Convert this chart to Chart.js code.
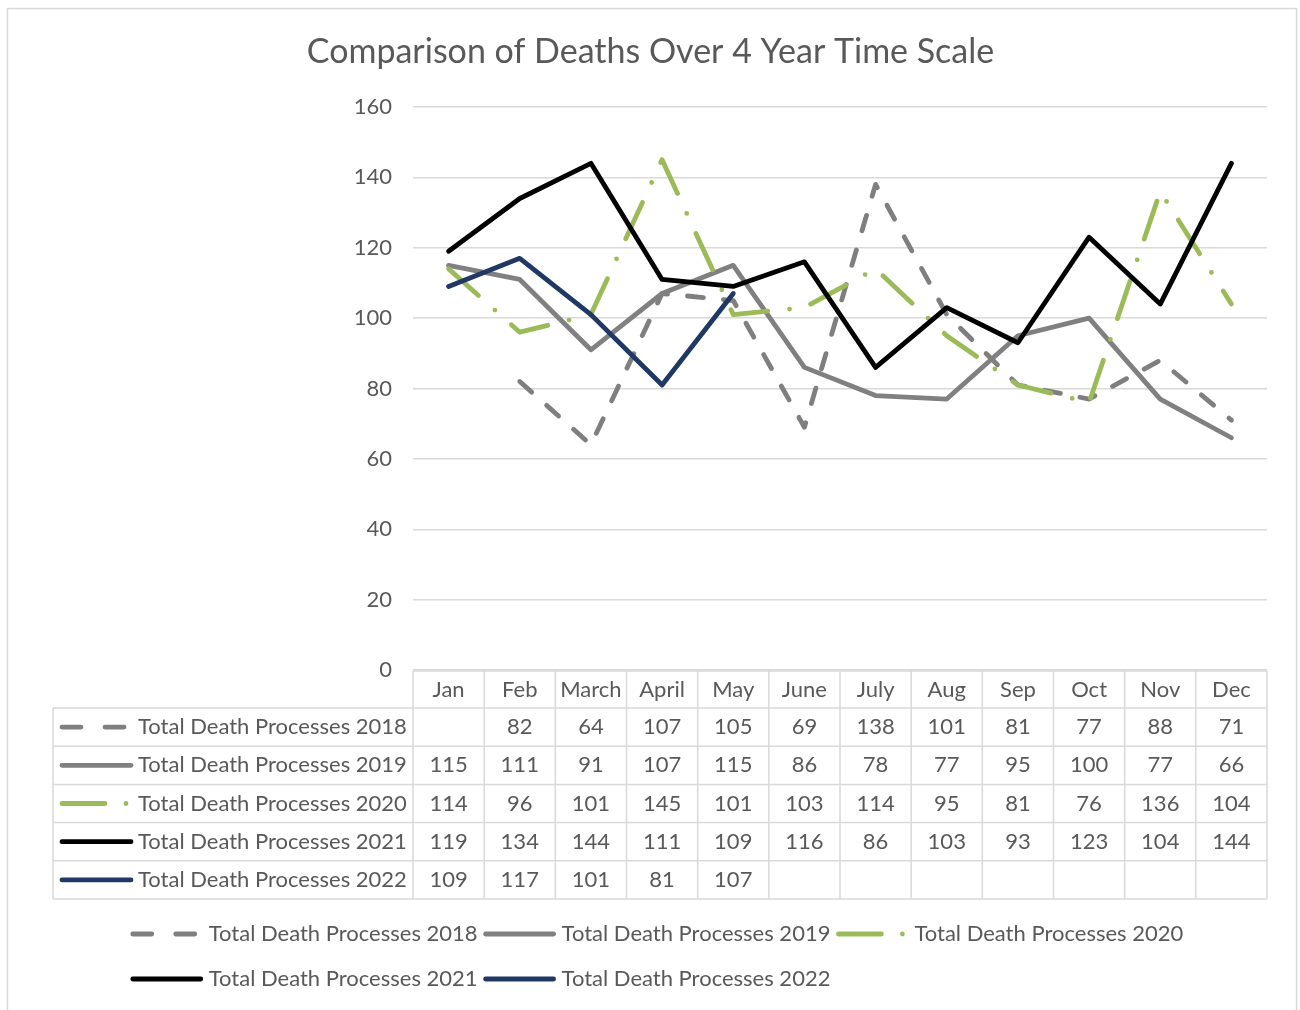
<!DOCTYPE html>
<html>
<head>
<meta charset="utf-8">
<title>Comparison of Deaths Over 4 Year Time Scale</title>
<script src="https://cdn.jsdelivr.net/npm/chart.js@4"></script>
<style>
    body { margin: 0; background: #fff; }
    #wrap { width: 1300px; height: 1010px; position: relative; }
</style>
</head>
<body>
<div id="wrap"><canvas id="deathsChart"></canvas></div>
<script>
// ============================================
// Data
// ============================================
const months = ['Jan', 'Feb', 'March', 'April', 'May', 'June', 'July', 'Aug', 'Sep', 'Oct', 'Nov', 'Dec'];
const seriesLabels = ['Total Death Processes 2018', 'Total Death Processes 2019', 'Total Death Processes 2020', 'Total Death Processes 2021', 'Total Death Processes 2022'];
const deaths2018 = [null, 82, 64, 107, 105, 69, 138, 101, 81, 77, 88, 71];
const deaths2019 = [115, 111, 91, 107, 115, 86, 78, 77, 95, 100, 77, 66];
const deaths2020 = [114, 96, 101, 145, 101, 103, 114, 95, 81, 76, 136, 104];
const deaths2021 = [119, 134, 144, 111, 109, 116, 86, 103, 93, 123, 104, 144];
const deaths2022 = [109, 117, 101, 81, 107, null, null, null, null, null, null, null];
const yTicks = [0, 20, 40, 60, 80, 100, 120, 140, 160];

const FONT = 'Lato, "Open Sans", sans-serif';
const TEXT = '#595959';
const RULE = '#d9d9d9';
const LABEL_SIZE = 22;

const styles = [
    { color: '#7f7f7f', dash: [16, 20], sampleDash: [19, 24] },
    { color: '#808080', dash: [], sampleDash: [] },
    { color: '#9bbb59', dash: [40, 22, 0, 22], sampleDash: [43, 21, 0, 40] },
    { color: '#000000', dash: [], sampleDash: [] },
    { color: '#203864', dash: [], sampleDash: [] }
];

const allSeries = [deaths2018, deaths2019, deaths2020, deaths2021, deaths2022];

const datasets = allSeries.map((values, i) => ({
    label: seriesLabels[i],
    data: values,
    borderColor: styles[i].color,
    backgroundColor: styles[i].color,
    borderWidth: 4.8,
    borderDash: styles[i].dash,
    borderCapStyle: 'round',
    borderJoinStyle: 'round',
    pointRadius: 0,
    pointHoverRadius: 0,
    tension: 0,
    fill: false,
    order: allSeries.length - i
}));

// line sample used in the data table and legend
function drawSample(ctx, i, x0, x1, y) {
    ctx.save();
    ctx.strokeStyle = styles[i].color;
    ctx.lineWidth = 4.8;
    ctx.lineCap = 'round';
    ctx.setLineDash(styles[i].sampleDash);
    ctx.beginPath();
    ctx.moveTo(x0, y);
    ctx.lineTo(x1, y);
    ctx.stroke();
    ctx.restore();
}

// ============================================
// Data table + legend plugin
// ============================================
const tablePlugin = {
    id: 'dataTable',
    beforeDraw(chart) {
        const ctx = chart.ctx;
        ctx.save();
        ctx.strokeStyle = RULE;
        ctx.lineWidth = 1.5;
        ctx.strokeRect(7.5, 8.5, 1289, 1010);
        ctx.restore();
    },
    afterDraw(chart) {
        const ctx = chart.ctx;
        const area = chart.chartArea;
        const xs = chart.scales.x;
        const headTop = area.bottom + 1;
        const headH = 37;
        const rowH = 38.2;
        const tableLeft = 53;
        const colW = (area.right - area.left) / months.length;
        const bottom = headTop + headH + rowH * seriesLabels.length;

        ctx.save();
        ctx.strokeStyle = RULE;
        ctx.lineWidth = 1.5;
        ctx.beginPath();
        // header top
        ctx.moveTo(area.left, headTop);
        ctx.lineTo(area.right, headTop);
        // row lines
        for (let r = 0; r <= seriesLabels.length; r++) {
            const y = headTop + headH + r * rowH;
            ctx.moveTo(tableLeft, y);
            ctx.lineTo(area.right, y);
        }
        // verticals
        ctx.moveTo(tableLeft, headTop + headH);
        ctx.lineTo(tableLeft, bottom);
        for (let c = 0; c <= months.length; c++) {
            const x = area.left + c * colW;
            ctx.moveTo(x, headTop);
            ctx.lineTo(x, bottom);
        }
        ctx.stroke();

        ctx.fillStyle = TEXT;
        ctx.font = LABEL_SIZE + 'px ' + FONT;
        ctx.textBaseline = 'middle';
        ctx.textAlign = 'center';
        months.forEach((m, c) => {
            ctx.fillText(m, xs.getPixelForValue(c), headTop + headH / 2);
        });

        seriesLabels.forEach((label, r) => {
            const cy = headTop + headH + r * rowH + rowH / 2;
            drawSample(ctx, r, 62, 131, cy);
            ctx.fillStyle = TEXT;
            ctx.textAlign = 'left';
            ctx.fillText(label, 138, cy);
            ctx.textAlign = 'center';
            allSeries[r].forEach((v, c) => {
                if (v !== null) ctx.fillText(String(v), xs.getPixelForValue(c), cy);
            });
        });

        // legend
        const sampleW = 72;
        const widths = seriesLabels.map(l => sampleW + 6 + ctx.measureText(l).width);
        const perRow = 3;
        const gap = 6;
        const row1W = widths.slice(0, perRow).reduce((a, b) => a + b, 0) + gap * (perRow - 1);
        const startX = 657 - row1W / 2;
        const rowYs = [934, 979];
        let x = startX;
        seriesLabels.forEach((label, i) => {
            if (i === perRow) x = startX;
            const y = rowYs[Math.floor(i / perRow)];
            drawSample(ctx, i, x + 2, x + sampleW - 2, y);
            ctx.fillStyle = TEXT;
            ctx.textAlign = 'left';
            ctx.fillText(label, x + sampleW + 6, y);
            x += widths[i] + gap;
        });
        ctx.restore();
    }
};

// ============================================
// Chart
// ============================================
const ctx = document.getElementById('deathsChart').getContext('2d');
new Chart(ctx, {
    type: 'line',
    data: {
        labels: months,
        datasets: datasets
    },
    options: {
        responsive: true,
        maintainAspectRatio: false,
        animation: false,
        layout: { padding: { top: 8, right: 33, left: 34, bottom: 0 } },
        plugins: {
            legend: { display: false },
            tooltip: { enabled: false },
            title: {
                display: true,
                text: 'Comparison of Deaths Over 4 Year Time Scale',
                color: TEXT,
                font: { family: FONT, size: 34, weight: 'normal', lineHeight: 1.2 },
                padding: { top: 23.6, bottom: 34.6 }
            }
        },
        scales: {
            x: {
                type: 'category',
                offset: true,
                ticks: { display: false },
                grid: { display: false },
                border: { display: false },
                afterFit: scale => { scale.height = 340; }
            },
            y: {
                min: 0,
                max: 160,
                afterBuildTicks: scale => { scale.ticks = yTicks.map(v => ({ value: v })); },
                ticks: {
                    color: TEXT,
                    font: { family: FONT, size: LABEL_SIZE },
                    padding: 21
                },
                grid: { color: RULE, lineWidth: 1.5, drawTicks: false },
                border: { display: false },
                afterFit: scale => { scale.width = 379; }
            }
        }
    },
    plugins: [tablePlugin]
});
</script>
</body>
</html>
